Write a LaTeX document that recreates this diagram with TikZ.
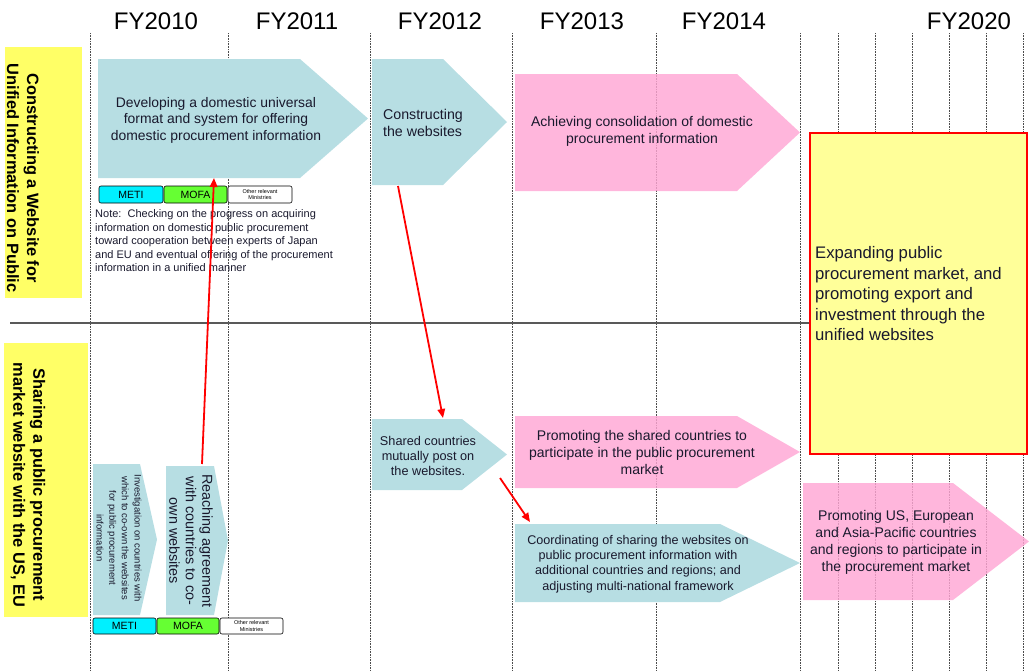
\documentclass[tikz,border=0pt]{standalone}
\usepackage{fontspec}
\setmainfont{Liberation Sans}
\usetikzlibrary{arrows.meta}
\definecolor{ltblue}{RGB}{183,222,227}
\definecolor{pinkf}{RGB}{255,166,212}
\definecolor{lblyellow}{RGB}{255,255,102}
\definecolor{bigyellow}{RGB}{255,255,153}
\definecolor{metic}{RGB}{0,240,255}
\definecolor{mofac}{RGB}{102,255,51}
\definecolor{txt}{RGB}{25,25,45}
\newcommand\fsz[2]{\fontsize{#1}{#2}\selectfont}
\newcommand\pentshape[6]{\path[#6] (#1,#2) -- (#3,#2) -- (#4,{(#2+#5)/2}) -- (#3,#5) -- (#1,#5) -- cycle;}
\begin{document}
\begin{tikzpicture}[x=1pt,y=-1pt,
  gridline/.style={draw=black!70, line width=0.8pt, dash pattern=on 0.8pt off 0.8pt},
  bluearrow/.style={fill=ltblue},
  pinkarrow/.style={fill=pinkf, fill opacity=0.82},
  lbl/.style={inner sep=0pt, align=center, text=txt},
  mini/.style={draw=black, line width=0.6pt, rounded corners=2pt, inner sep=0pt, font=\fsz{10.5}{11}},
  otherm/.style={mini, fill=white, align=center, font=\fsz{5.5}{6.5}},
  redarrow/.style={draw=red, line width=1.8pt, -{Triangle[length=9pt,width=7.5pt]}},
  yearlbl/.style={inner sep=0pt, font=\fsz{24}{26}},
  sidelbl/.style={rotate=-90, inner sep=0pt, align=center, font=\bfseries\fsz{16.4}{20}},
]
\useasboundingbox (0,0) rectangle (1029,670);

% year labels
\node[yearlbl] (y10) at (156,21) {FY2010};
\node[yearlbl] (y11) at (297,21) {FY2011};
\node[yearlbl] (y12) at (440,21) {FY2012};
\node[yearlbl] (y13) at (582,21) {FY2013};
\node[yearlbl] (y14) at (724,21) {FY2014};
\node[yearlbl] (y20) at (969,21) {FY2020};

% dotted grid lines
\foreach \x in {90,228,370,512,656,800,838,875,912,949,986,1023}
  \draw[gridline] (\x,33) -- (\x,670);

% separator
\draw[black!65, line width=1.3pt] (10,323) -- (810,323);

% side labels
\node[fill=lblyellow, minimum width=77pt, minimum height=251pt, inner sep=0pt] (side1) at (43.5,172.5) {};
\node[sidelbl] (side1t) at (23,178) {Constructing a Website for\\Unified Information on Public};
\node[fill=lblyellow, minimum width=84pt, minimum height=274pt, inner sep=0pt] (side2) at (46,480) {};
\node[sidelbl] (side2t) at (28,485) {Sharing a public procurement\\market website with the US, EU};

% top row shapes
\pentshape{98}{59}{300}{368}{178}{bluearrow}
\node[lbl, font=\fsz{13.9}{16.5}] (dev) at (216,120) {Developing a domestic universal\\format and system for offering\\domestic procurement information};
\pentshape{372}{59}{443}{507}{185}{bluearrow}
\node[lbl, align=left, font=\fsz{14.2}{16.5}] (cons) at (423,123) {Constructing\\the websites};
\pentshape{515}{74}{737}{800}{191}{pinkarrow}
\node[lbl, font=\fsz{14}{17}] (achv) at (642,131.5) {Achieving consolidation of domestic\\procurement information};

% ministries top
\node[mini, fill=metic, minimum width=64pt, minimum height=17pt] (meti1) at (131,194.5) {METI};
\node[mini, fill=mofac, minimum width=63pt, minimum height=17pt] (mofa1) at (195.5,194.5) {MOFA};
\node[otherm, minimum width=64pt, minimum height=17pt] (oth1) at (260,194.5) {Other relevant\\Ministries};
\node[lbl, align=left, anchor=west, font=\fsz{11}{13.5}] (note) at (95,241) {Note:\ \ Checking on the progress on acquiring\\information on domestic public procurement\\toward cooperation between experts of Japan\\and EU and eventual offering of the procurement\\information in a unified manner};

% goal box
\node[draw=red, line width=2pt, fill=bigyellow, minimum width=217pt, minimum height=321pt, inner sep=0pt] (goal) at (918.5,293.5) {};
\node[inner sep=0pt, align=left, anchor=west, text=txt, font=\fsz{16.7}{20.5}] (goalt) at (815,294) {Expanding public\\procurement market, and\\promoting export and\\investment through the\\unified websites};

% bottom row shapes
\pentshape{93}{464}{140}{157}{615}{bluearrow}
\node[lbl, rotate=-90, font=\fsz{9.5}{12.6}] (inv) at (119,538) {Investigation on countries with\\which to co-own the websites\\for public procurement\\information};
\pentshape{166}{466}{214}{228}{615}{bluearrow}
\node[lbl, rotate=-90, font=\fsz{14.4}{16.5}] (reach) at (191,541) {Reaching agreement\\with countries to co-\\own websites};

\node[mini, fill=metic, minimum width=63pt, minimum height=16pt] (meti2) at (124.5,626) {METI};
\node[mini, fill=mofac, minimum width=62pt, minimum height=16pt] (mofa2) at (188,626) {MOFA};
\node[otherm, minimum width=63pt, minimum height=16pt] (oth2) at (251.5,626) {Other relevant\\Ministries};

\pentshape{372}{419}{462}{507}{490}{bluearrow}
\node[lbl, font=\fsz{12.7}{15.3}] (shared) at (428,456) {Shared countries\\mutually post on\\the websites.};
\pentshape{515}{416}{737}{800}{488}{pinkarrow}
\node[lbl, font=\fsz{14}{17}] (promsh) at (642,452) {Promoting the shared countries to\\participate in the public procurement\\market};
\pentshape{515}{524}{720}{800}{602}{bluearrow}
\node[lbl, font=\fsz{12.6}{15.3}] (coord) at (638,564) {Coordinating of sharing the websites on\\public procurement information with\\additional countries and regions; and\\adjusting multi-national framework};
\pentshape{803}{483}{953}{1029}{600}{pinkarrow}
\node[lbl, font=\fsz{14}{17}] (promus) at (896,542.5) {Promoting US, European\\and Asia-Pacific countries\\and regions to participate in\\the procurement market};

% red connectors
\coordinate (r1s) at (202,464);
\coordinate (r1e) at (214,178);
\coordinate (r2s) at (398,186);
\coordinate (r2e) at (443,418);
\coordinate (r3s) at (500,478);
\coordinate (r3e) at (530,522);
\draw[redarrow] (r1s) -- (r1e);
\draw[redarrow] (r2s) -- (r2e);
\draw[redarrow] (r3s) -- (r3e);
\end{tikzpicture}
\end{document}
